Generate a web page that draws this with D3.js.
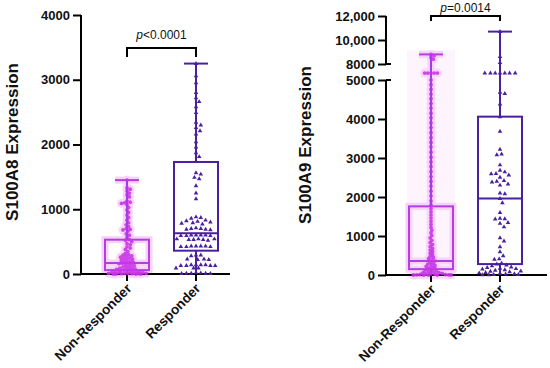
<!DOCTYPE html>
<html>
<head>
<meta charset="utf-8">
<script src="https://cdn.jsdelivr.net/npm/d3@7"></script>
<style>
  html, body { margin: 0; padding: 0; background: #fff; }
  svg { display: block; font-family: "Liberation Sans", Arial, sans-serif; }
</style>
</head>
<body>
<svg id="chart" width="550" height="368"></svg>
<script>
// ---------------- DATA ----------------
const categories = ["Non-Responder", "Responder"];

// S100A8 expression values
const a8NonResponder = [1450, 1330, 1310, 1280, 1250, 1220, 1190, 1130, 1110, 1100, 1090, 1070, 1030, 990, 950, 910,
  870, 830, 790, 760, 730, 700, 690, 680, 660, 620, 600, 560, 530, 520, 500, 470, 450, 420, 400, 380, 350, 320,
  300, 290, 280, 270, 260, 250, 240, 230, 220, 210, 200, 190, 180, 170, 165, 160, 150, 140, 130, 120, 110, 100,
  95, 90, 80, 75, 70, 60, 55, 50, 45, 40, 35, 30, 30, 25, 20, 20, 15, 15, 10, 10, 10, 5, 5, 5, 0, 0, 0, 0];
const a8Responder = [3250, 3060, 2950, 2800, 2720, 2660, 2580, 2490, 2340, 2300, 2260, 2210, 2160, 2040, 1960, 1870,
  1810, 1740, 1560, 1540, 1490, 1470, 1360, 1250, 1160, 880, 870, 860, 830, 820, 810, 800, 790, 780, 770, 710, 700,
  700, 690, 690, 680, 600, 600, 600, 600, 590, 590, 590, 540, 540, 540, 530, 530, 530, 520, 430, 430, 430, 430, 420,
  420, 420, 290, 290, 280, 230, 230, 220, 220, 140, 140, 140, 140, 130, 130, 130, 130, 90, 90, 90, 20, 15, 10, 10,
  10, 5, 5];
// box statistics: [min, q1, median, q3, max]
const a8BoxNonResponder = [0, 60, 170, 530, 1450];
const a8BoxResponder = [10, 360, 630, 1730, 3250];
const a8Ticks = [0, 1000, 2000, 3000, 4000];
const a8PLabel = "<0.0001";

// S100A9 expression values
const a9NonResponder = [8800, 8700, 8550, 8400, 6300, 6300, 6300, 6300, 6300, 5000, 4880, 4760, 4640, 4520, 4400, 4280,
  4150, 4030, 3900, 3780, 3650, 3520, 3400, 3280, 3150, 3020, 2900, 2780, 2650, 2520, 2400, 2280, 2150, 2030, 1900,
  1800, 1700, 1620, 1540, 1460, 1380, 1300, 1220, 1150, 1080, 1010, 950, 890, 830, 780, 730, 680, 640, 600, 560, 520,
  480, 450, 420, 390, 360, 330, 300, 280, 260, 240, 220, 200, 180, 160, 140, 120, 100, 90, 80, 70, 60, 50, 40, 30,
  20, 20, 10, 10, 5, 5, 0, 0, 0, 0, 0];
const a9Responder = [10700, 8600, 8100, 6300, 6300, 6300, 6300, 6300, 6300, 6300, 4680, 4650, 4380, 4050, 3680, 3220,
  3100, 3080, 2820, 2680, 2640, 2600, 2590, 2560, 2500, 2420, 2400, 2380, 2330, 2300, 2100, 2080, 1960, 1850, 1600,
  1450, 1440, 1430, 1340, 1320, 1230, 950, 870, 720, 590, 490, 410, 400, 300, 280, 250, 230, 200, 190, 170, 160,
  150, 130, 120, 100, 90, 80, 60, 50, 40, 30, 20, 10, 10, 0, 0];
const a9BoxNonResponder = [0, 150, 360, 1760, 8800];
const a9BoxResponder = [0, 280, 1960, 4060, 10700];
const a9TicksLower = [0, 1000, 2000, 3000, 4000, 5000];
const a9TicksUpper = [8000, 10000, 12000];
const a9PLabel = "=0.0014";

// ---------------- STYLE ----------------
const colNR = "#b23ee8", colNRPoint = "#c935e8", colHalo = "#f8d2f8", colR = "#4a209e";
const svg = d3.select("#chart");
const fmt = d => d >= 10000 ? d3.format(",")(d) : String(d);

function swarm(values, y, d, maxOff) {
  const sorted = values.map((v, i) => ({v, i, y: y(v)})).sort((a, b) => a.y - b.y);
  const placed = [];
  const cand = [0];
  for (let k = 1; k * 0.8 <= maxOff; k++) { cand.push(k * 0.8, -k * 0.8); }
  sorted.forEach(p => {
    let best = null, bestD = -1;
    for (const dx of cand) {
      let minD = Infinity;
      for (const q of placed) {
        const ddx = q.x - dx, ddy = q.y - p.y;
        const dd = Math.sqrt(ddx * ddx + ddy * ddy);
        if (dd < minD) minD = dd;
      }
      if (minD >= d) { best = dx; bestD = minD; break; }
      if (minD > bestD) { bestD = minD; best = dx; }
    }
    p.x = best; placed.push(p);
  });
  return sorted;
}

function drawPanel(cfg) {
  const g = svg.append("g");
  const x = d3.scalePoint().domain(categories).range(cfg.xr);
  const y = cfg.y;
  const bw = 44, cap = 24;

  // faint column glow
  if (cfg.glow) {
    const b = cfg.boxes[0];
    g.append("rect").attr("x", x(categories[0]) - bw / 2 - 2).attr("width", bw + 4)
      .attr("y", y(b[4]) - 4).attr("height", y(0) - y(b[4]) + 8).attr("fill", "#fef4fe");
  }

  const nr = swarm(cfg.data[0], y, 2.8, 20);
  // pink halo beneath NR points
  g.append("g").selectAll("circle").data(nr).join("circle")
    .attr("cx", d => x(categories[0]) + d.x).attr("cy", d => d.y).attr("r", 4.5)
    .attr("fill", "#fad6fa");

  // y axes
  cfg.axes.forEach(a => {
    const ax = g.append("g").attr("transform", `translate(${cfg.axisX},0)`)
      .call(d3.axisLeft(y).tickValues(a.ticks).tickSize(8).tickPadding(3).tickFormat(fmt));
    ax.select(".domain").attr("d", `M0,${y(a.ticks[0])}V${y(a.ticks[a.ticks.length - 1])}`)
      .attr("stroke", "#000").attr("stroke-width", 2);
    ax.selectAll(".tick line").attr("stroke", "#000").attr("stroke-width", 2);
    ax.selectAll(".tick text").attr("fill", "#111").style("font-size", "13px").style("font-weight", "bold");
  });
  (cfg.breaks || []).forEach(v => {
    g.append("line").attr("x1", cfg.axisX).attr("x2", cfg.axisX + 5).attr("y1", y(v)).attr("y2", y(v))
      .attr("stroke", "#000").attr("stroke-width", 2);
  });

  // boxes
  categories.forEach((c, ci) => {
    const b = cfg.boxes[ci];
    const cx = x(c);
    const color = ci === 0 ? colNR : colR;
    const layers = ci === 0 ? [{s: colHalo, w: 7}, {s: color, w: 2}] : [{s: color, w: 2}];
    const bg = g.append("g");
    layers.forEach(L => {
      const gg = bg.append("g").attr("stroke", L.s).attr("stroke-width", L.w).attr("fill", "none");
      gg.append("rect").attr("x", cx - bw / 2).attr("width", bw).attr("y", y(b[3])).attr("height", y(b[1]) - y(b[3]));
      gg.append("line").attr("x1", cx - bw / 2).attr("x2", cx + bw / 2).attr("y1", y(b[2])).attr("y2", y(b[2]));
      gg.append("line").attr("x1", cx).attr("x2", cx).attr("y1", y(b[3])).attr("y2", y(b[4]));
      gg.append("line").attr("x1", cx).attr("x2", cx).attr("y1", y(b[1])).attr("y2", y(b[0]));
      gg.append("line").attr("x1", cx - cap / 2).attr("x2", cx + cap / 2).attr("y1", y(b[4])).attr("y2", y(b[4]));
    });
  });

  // x axis
  g.append("line").attr("x1", cfg.axisX - 1).attr("x2", cfg.xEnd).attr("y1", y(0)).attr("y2", y(0))
    .attr("stroke", "#000").attr("stroke-width", 2);
  categories.forEach(c => {
    g.append("line").attr("x1", x(c)).attr("x2", x(c)).attr("y1", y(0)).attr("y2", y(0) + 7)
      .attr("stroke", "#000").attr("stroke-width", 2);
    g.append("text").attr("transform", `translate(${x(c) + 2},${y(0) + 12}) rotate(-45)`)
      .attr("text-anchor", "end").attr("dy", "0.35em")
      .style("font-size", "13.6px").style("font-weight", "bold").attr("fill", "#111").text(c);
  });

  // points
  g.append("g").selectAll("circle").data(nr).join("circle")
    .attr("cx", d => x(categories[0]) + d.x).attr("cy", d => d.y).attr("r", 1.9)
    .attr("fill", colNRPoint).attr("opacity", 0.9);
  const r = swarm(cfg.data[1], y, 4.8, 21);
  const tri = d3.symbol().type(d3.symbolTriangle).size(9);
  g.append("g").selectAll("path").data(r).join("path")
    .attr("transform", d => `translate(${x(categories[1]) + d.x},${d.y})`)
    .attr("d", tri).attr("fill", colR);

  // whisker line over NR points
  const b0 = cfg.boxes[0];
  g.append("line").attr("x1", x(categories[0])).attr("x2", x(categories[0]))
    .attr("y1", y(b0[3])).attr("y2", y(b0[4])).attr("stroke", "#9b40e4").attr("stroke-width", 1.6).attr("opacity", 0.85);

  // significance bracket
  const bx1 = x(categories[0]), bx2 = x(categories[1]);
  g.append("path").attr("d", `M${bx1},${cfg.br[1]}V${cfg.br[0]}H${bx2}V${cfg.br[1]}`)
    .attr("fill", "none").attr("stroke", "#000").attr("stroke-width", 2);
  const t = g.append("text").attr("x", (bx1 + bx2) / 2).attr("y", cfg.br[2]).attr("text-anchor", "middle")
    .style("font-size", "12px").attr("fill", "#111");
  t.append("tspan").style("font-style", "italic").text("p");
  t.append("tspan").text(cfg.p);

  // y title
  g.append("text").attr("transform", `translate(${cfg.titleX},${cfg.titleY}) rotate(-90)`)
    .attr("text-anchor", "middle").attr("dy", "0.35em")
    .style("font-size", "17px").style("font-weight", "bold").attr("fill", "#111").text(cfg.title);
}

drawPanel({
  y: d3.scaleLinear().domain([0, 4000]).range([274, 15]),
  axes: [{ticks: a8Ticks}],
  axisX: 81, xEnd: 230, xr: [127, 196],
  boxes: [a8BoxNonResponder, a8BoxResponder],
  data: [a8NonResponder, a8Responder],
  br: [48, 57, 39], p: a8PLabel,
  title: "S100A8 Expression", titleX: 12, titleY: 142
});

drawPanel({
  y: d3.scaleLinear().domain([0, 5000, 8000, 12000]).range([275, 80, 64, 16]),
  axes: [{ticks: a9TicksLower}, {ticks: a9TicksUpper}],
  breaks: [5000, 8000],
  axisX: 386, xEnd: 547, xr: [431, 500],
  boxes: [a9BoxNonResponder, a9BoxResponder],
  data: [a9NonResponder, a9Responder],
  br: [16, 21, 12], p: a9PLabel, glow: true,
  title: "S100A9 Expression", titleX: 305, titleY: 145
});
</script>
</body>
</html>
